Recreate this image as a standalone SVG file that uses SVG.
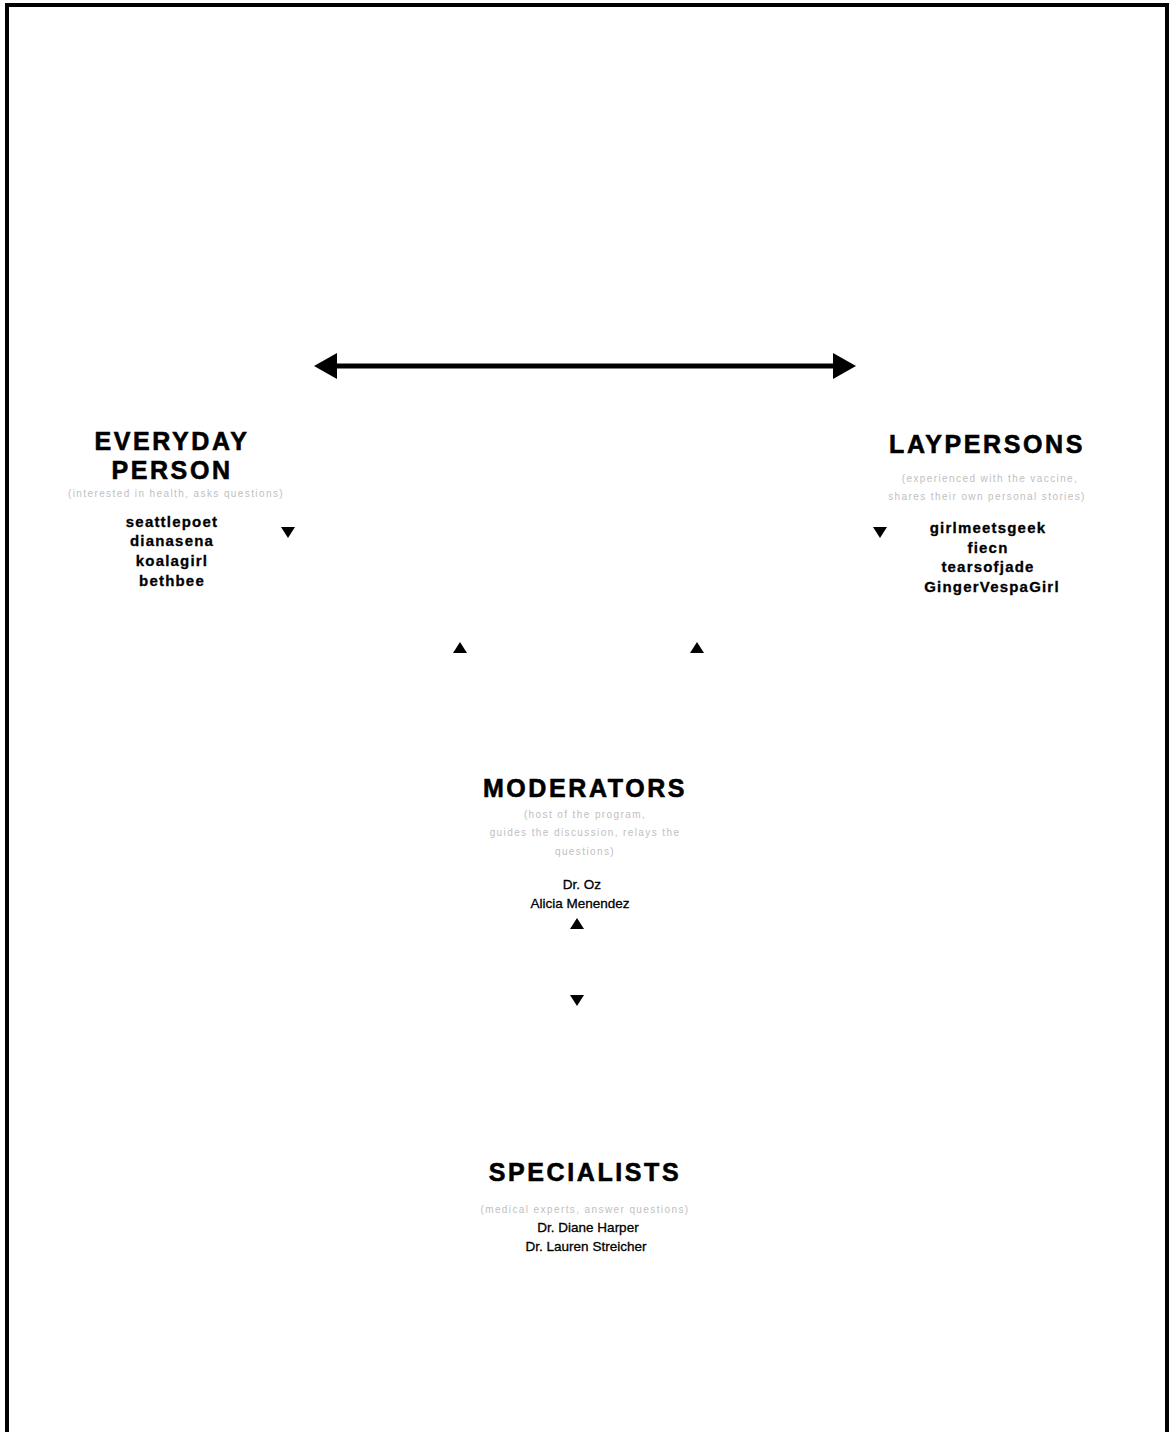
<svg xmlns="http://www.w3.org/2000/svg" width="1170" height="1432" viewBox="0 0 1170 1432">
<style>
.h{font-family:"Liberation Sans",Arial,sans-serif;font-weight:bold;font-size:25px;letter-spacing:2.6px;fill:#000;stroke:#000;stroke-width:0.6px;text-anchor:middle}
.n{font-family:"Liberation Sans",Arial,sans-serif;font-weight:bold;font-size:15px;letter-spacing:1.2px;fill:#000;stroke:#000;stroke-width:0.3px;text-anchor:middle}
.m{font-family:"Liberation Sans",Arial,sans-serif;font-size:13.5px;fill:#000;stroke:#000;stroke-width:0.3px;text-anchor:middle}
.s{font-family:"Liberation Sans",Arial,sans-serif;font-size:10px;letter-spacing:1.4px;fill:#c0c0c0;text-anchor:middle}
.tri{fill:#000}
</style>
<rect x="0" y="0" width="1170" height="1432" fill="#fff"/>
<path d="M7,1440 V5 H1167 V1440" fill="none" stroke="#000" stroke-width="4"/>
<g id="connectors">
<line x1="330" y1="366" x2="840" y2="366" stroke="#000" stroke-width="5"/>
<polygon class="tri" points="314,366 337,353 337,379"/>
<polygon class="tri" points="856,366 833,353 833,379"/>
<polygon class="tri" points="281,527 295,527 288,538"/>
<polygon class="tri" points="873,527 887,527 880,538"/>
<polygon class="tri" points="453,653 467,653 460,642"/>
<polygon class="tri" points="690,653 704,653 697,642"/>
<polygon class="tri" points="570,929 584,929 577,918"/>
<polygon class="tri" points="570,995 584,995 577,1006"/>
</g>
<g id="everyday-person">
<text class="h" x="172" y="450">EVERYDAY</text>
<text class="h" x="172" y="479">PERSON</text>
<text class="s" x="176" y="497">(interested in health, asks questions)</text>
<text class="n" x="172" y="527">seattlepoet</text>
<text class="n" x="172" y="546">dianasena</text>
<text class="n" x="172" y="566">koalagirl</text>
<text class="n" x="172" y="586">bethbee</text>
</g>
<g id="laypersons">
<text class="h" x="987" y="453">LAYPERSONS</text>
<text class="s" x="990" y="482">(experienced with the vaccine,</text>
<text class="s" x="987" y="500">shares their own personal stories)</text>
<text class="n" x="988" y="533">girlmeetsgeek</text>
<text class="n" x="988" y="553">fiecn</text>
<text class="n" x="988" y="572">tearsofjade</text>
<text class="n" x="992" y="592">GingerVespaGirl</text>
</g>
<g id="moderators">
<text class="h" x="585" y="797">MODERATORS</text>
<text class="s" x="585" y="818">(host of the program,</text>
<text class="s" x="585" y="836">guides the discussion, relays the</text>
<text class="s" x="585" y="855">questions)</text>
<text class="m" x="582" y="889">Dr. Oz</text>
<text class="m" x="580" y="908">Alicia Menendez</text>
</g>
<g id="specialists">
<text class="h" x="585" y="1181">SPECIALISTS</text>
<text class="s" x="585" y="1213">(medical experts, answer questions)</text>
<text class="m" x="588" y="1232">Dr. Diane Harper</text>
<text class="m" x="586" y="1251">Dr. Lauren Streicher</text>
</g>
</svg>
